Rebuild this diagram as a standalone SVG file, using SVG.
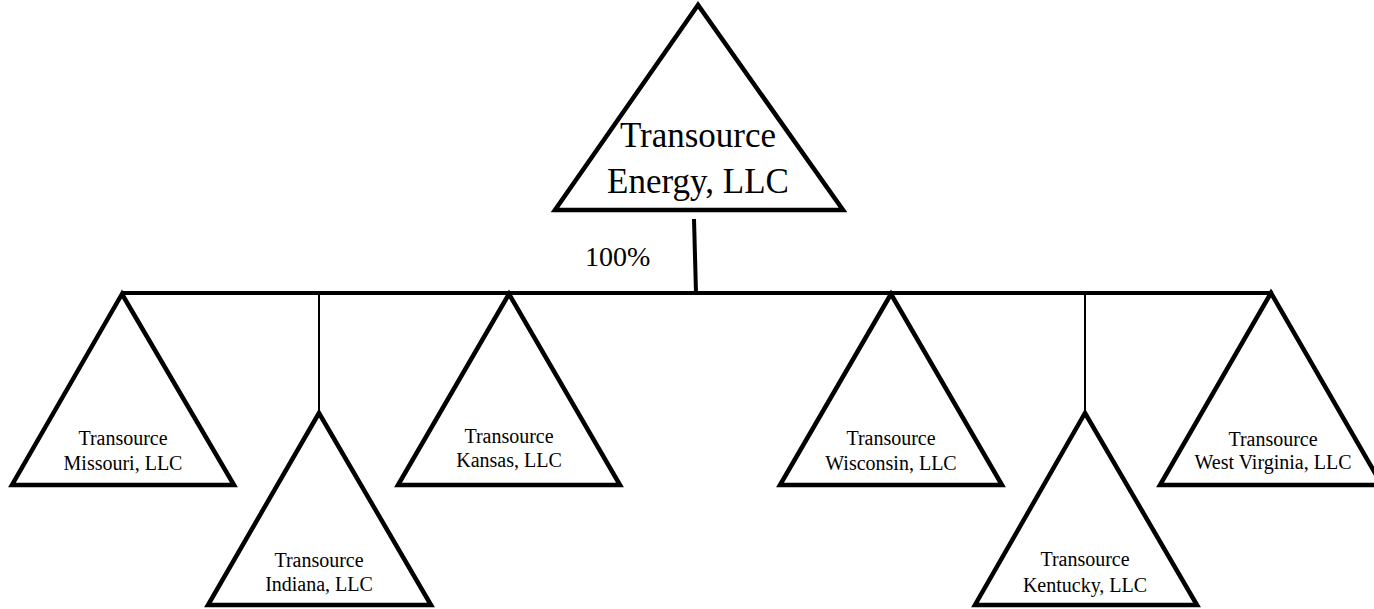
<svg xmlns="http://www.w3.org/2000/svg" width="1374" height="609" viewBox="0 0 1374 609">
<style>
.tri{fill:#fff;stroke:#000;stroke-width:4.5;stroke-linejoin:miter}
.thick{stroke:#000;stroke-width:4;fill:none}
.thin{stroke:#000;stroke-width:2;fill:none}
.lbl{font-family:"Liberation Serif","Times New Roman",serif;font-size:20px;text-anchor:middle;fill:#000}
.big{font-family:"Liberation Serif","Times New Roman",serif;font-size:35px;text-anchor:middle;fill:#000}
.pct{font-family:"Liberation Serif","Times New Roman",serif;font-size:28px;fill:#000}
</style>
<rect width="1374" height="609" fill="#fff"/>
<g id="connectors">
<line class="thick" x1="694" y1="219" x2="696" y2="293"/>
<line class="thick" x1="121" y1="293" x2="1273" y2="293"/>
<line class="thin" x1="319" y1="293" x2="319" y2="413"/>
<line class="thin" x1="1085" y1="293" x2="1085" y2="413"/>
<text class="pct" x="585" y="266">100%</text>
</g>
<g id="energy">
<polygon class="tri" points="698,5 555,210 843,210"/>
<text class="big" x="698" y="147">Transource</text>
<text class="big" x="698" y="193">Energy, LLC</text>
</g>
<g id="missouri">
<polygon class="tri" points="122,294 12,485 234,485"/>
<text class="lbl" x="123" y="445">Transource</text>
<text class="lbl" x="123" y="470">Missouri, LLC</text>
</g>
<g id="indiana">
<polygon class="tri" points="319,413 208,605 431,605"/>
<text class="lbl" x="319" y="567">Transource</text>
<text class="lbl" x="319" y="591">Indiana, LLC</text>
</g>
<g id="kansas">
<polygon class="tri" points="509,294 398,485 620,485"/>
<text class="lbl" x="509" y="443">Transource</text>
<text class="lbl" x="509" y="467">Kansas, LLC</text>
</g>
<g id="wisconsin">
<polygon class="tri" points="891,294 780,485 1002,485"/>
<text class="lbl" x="891" y="445">Transource</text>
<text class="lbl" x="891" y="470">Wisconsin, LLC</text>
</g>
<g id="kentucky">
<polygon class="tri" points="1085,413 975,605 1197,605"/>
<text class="lbl" x="1085" y="566">Transource</text>
<text class="lbl" x="1085" y="592">Kentucky, LLC</text>
</g>
<g id="westvirginia">
<polygon class="tri" points="1271,293 1160,485 1382,485"/>
<text class="lbl" x="1273" y="446">Transource</text>
<text class="lbl" x="1273" y="469">West Virginia, LLC</text>
</g>
</svg>
